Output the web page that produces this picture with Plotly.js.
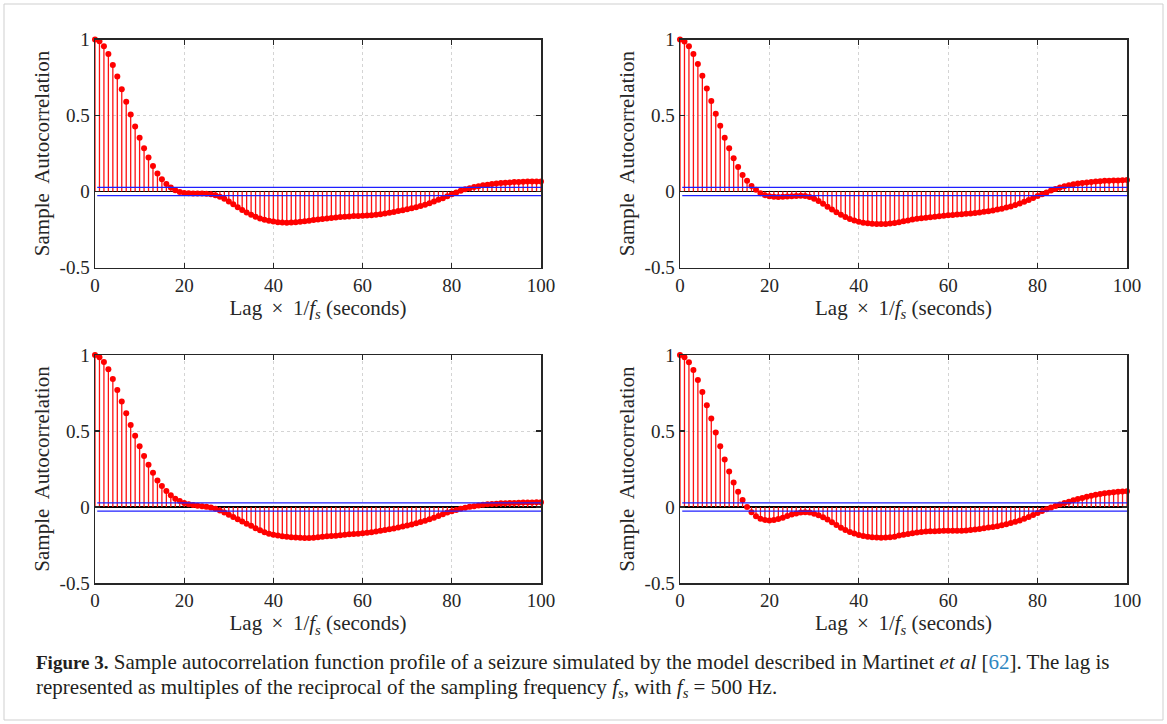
<!DOCTYPE html>
<html>
<head>
<meta charset="utf-8">
<script src="https://cdn.plot.ly/plotly-3.0.1.min.js"></script>
<style>
  html, body { margin: 0; padding: 0; background: #ffffff; }
  #chart { width: 1167px; height: 724px; }
</style>
</head>
<body>
<div id="chart"></div>
<script>
// ---------------- DATA ----------------
const lags = Array.from({length: 101}, (_, i) => i);   // lag index 0..100

const acfTopLeft = [
  1.000, 0.989, 0.956, 0.904, 0.833, 0.757, 0.673, 0.590, 0.507, 0.428,
  0.353, 0.285, 0.224, 0.167, 0.118, 0.081, 0.050, 0.026, 0.009, -0.004,
  -0.010, -0.012, -0.013, -0.013, -0.013, -0.014, -0.018, -0.024, -0.034, -0.048,
  -0.066, -0.084, -0.103, -0.121, -0.138, -0.153, -0.166, -0.177, -0.186, -0.193,
  -0.198, -0.202, -0.204, -0.205, -0.204, -0.202, -0.199, -0.196, -0.192, -0.188,
  -0.185, -0.181, -0.177, -0.174, -0.171, -0.168, -0.166, -0.164, -0.162, -0.161,
  -0.160, -0.158, -0.156, -0.153, -0.149, -0.145, -0.140, -0.135, -0.129, -0.123,
  -0.117, -0.111, -0.104, -0.096, -0.087, -0.077, -0.066, -0.055, -0.044, -0.031,
  -0.018, -0.006, 0.005, 0.014, 0.022, 0.029, 0.035, 0.041, 0.045, 0.049,
  0.053, 0.056, 0.058, 0.060, 0.062, 0.063, 0.064, 0.065, 0.065, 0.066,
  0.066
];

const acfTopRight = [
  1.000, 0.987, 0.956, 0.904, 0.838, 0.761, 0.678, 0.595, 0.512, 0.433,
  0.354, 0.284, 0.219, 0.162, 0.109, 0.070, 0.037, 0.011, -0.011, -0.024,
  -0.031, -0.035, -0.036, -0.035, -0.033, -0.031, -0.029, -0.028, -0.030, -0.037,
  -0.048, -0.063, -0.081, -0.100, -0.118, -0.136, -0.153, -0.168, -0.181, -0.191,
  -0.199, -0.205, -0.209, -0.212, -0.213, -0.214, -0.213, -0.211, -0.207, -0.202,
  -0.196, -0.190, -0.185, -0.180, -0.176, -0.172, -0.169, -0.166, -0.163, -0.160,
  -0.157, -0.155, -0.152, -0.150, -0.147, -0.144, -0.141, -0.138, -0.134, -0.130,
  -0.125, -0.119, -0.113, -0.106, -0.098, -0.089, -0.079, -0.068, -0.056, -0.043,
  -0.030, -0.018, -0.006, 0.006, 0.017, 0.026, 0.034, 0.041, 0.047, 0.052,
  0.056, 0.060, 0.063, 0.066, 0.068, 0.070, 0.071, 0.072, 0.073, 0.074,
  0.075
];

const acfBottomLeft = [
  1.000, 0.985, 0.954, 0.906, 0.842, 0.770, 0.694, 0.617, 0.540, 0.468,
  0.400, 0.335, 0.278, 0.225, 0.175, 0.138, 0.105, 0.077, 0.055, 0.039,
  0.026, 0.018, 0.013, 0.009, 0.005, 0.001, -0.004, -0.012, -0.023, -0.036,
  -0.051, -0.066, -0.081, -0.095, -0.110, -0.124, -0.139, -0.153, -0.166, -0.176,
  -0.183, -0.188, -0.192, -0.196, -0.199, -0.201, -0.203, -0.204, -0.204, -0.202,
  -0.199, -0.196, -0.193, -0.191, -0.189, -0.186, -0.183, -0.180, -0.178, -0.176,
  -0.173, -0.170, -0.166, -0.162, -0.157, -0.152, -0.147, -0.141, -0.135, -0.129,
  -0.122, -0.115, -0.107, -0.099, -0.090, -0.081, -0.070, -0.059, -0.048, -0.037,
  -0.028, -0.020, -0.012, -0.005, 0.001, 0.005, 0.010, 0.014, 0.018, 0.020,
  0.022, 0.024, 0.025, 0.026, 0.027, 0.028, 0.029, 0.030, 0.030, 0.031,
  0.031
];

const acfBottomRight = [
  1.000, 0.985, 0.952, 0.902, 0.836, 0.757, 0.670, 0.582, 0.490, 0.400,
  0.313, 0.234, 0.162, 0.101, 0.046, 0.000, -0.035, -0.061, -0.077, -0.085,
  -0.088, -0.085, -0.079, -0.070, -0.059, -0.050, -0.042, -0.037, -0.035, -0.037,
  -0.044, -0.055, -0.068, -0.083, -0.100, -0.118, -0.136, -0.151, -0.164, -0.175,
  -0.184, -0.190, -0.195, -0.199, -0.201, -0.202, -0.201, -0.199, -0.195, -0.188,
  -0.182, -0.177, -0.173, -0.168, -0.164, -0.162, -0.160, -0.159, -0.158, -0.157,
  -0.156, -0.156, -0.156, -0.156, -0.155, -0.152, -0.148, -0.144, -0.140, -0.135,
  -0.131, -0.126, -0.120, -0.113, -0.105, -0.097, -0.088, -0.077, -0.066, -0.053,
  -0.039, -0.027, -0.015, -0.004, 0.007, 0.017, 0.026, 0.035, 0.044, 0.052,
  0.059, 0.067, 0.074, 0.080, 0.085, 0.090, 0.094, 0.097, 0.100, 0.102,
  0.103
];

const confBound = 0.027;          // +/- confidence bound (blue lines)
const boundStartLag = 0.5;
const boundEndLag = 100;

const xTickVals = [0, 20, 40, 60, 80, 100];
const xTickText = ['0', '20', '40', '60', '80', '100'];
const yTickVals = [-0.5, 0, 0.5, 1];
const yTickText = ['-0.5', '0', '0.5', '1'];

const xTitle = 'Lag \u2009×\u2009 1/<i>f<sub>s</sub></i> (seconds)';
const yTitle = 'Sample  Autocorrelation';

const captionLine1 = '<span style="font-size:19px"><b>Figure 3.</b></span> Sample autocorrelation function profile of a seizure simulated by the model described in Martinet <i>et al</i> [<span style="color:#2e86c1">62</span>]. The lag is';
const captionLine2 = 'represented as multiples of the reciprocal of the sampling frequency <i>f<sub>s</sub></i>, with <i>f<sub>s</sub></i> = 500 Hz.';

// ---------------- FIGURE ----------------
const W = 1167, H = 724;
const px = v => v / W;
const py = v => 1 - v / H;

const series = [acfTopLeft, acfTopRight, acfBottomLeft, acfBottomRight];
const panels = [
  {x0: 95,  x1: 541,  y0: 39.5, y1: 267.5},
  {x0: 680, x1: 1127, y0: 39.5, y1: 267.5},
  {x0: 95,  x1: 541,  y0: 355,  y1: 583},
  {x0: 680, x1: 1127, y0: 355,  y1: 583}
];

const serif = 'Liberation Serif, Times New Roman, serif';
const axisInk = '#262626';

const traces = [];
const layout = {
  width: W, height: H,
  margin: {l: 0, r: 0, t: 0, b: 0},
  paper_bgcolor: '#ffffff',
  plot_bgcolor: '#ffffff',
  showlegend: false,
  font: {family: serif, color: axisInk},
  annotations: [],
  shapes: [{
    type: 'rect', xref: 'paper', yref: 'paper',
    x0: px(4), x1: px(1163), y0: py(720), y1: py(4),
    line: {color: '#cfcfcf', width: 1}, layer: 'below'
  }]
};

series.forEach((vals, k) => {
  const n = k + 1;
  const xa = n === 1 ? 'x' : 'x' + n;
  const ya = n === 1 ? 'y' : 'y' + n;
  const sx = [], sy = [];
  vals.forEach((v, i) => { sx.push(lags[i], lags[i], null); sy.push(0, v, null); });

  traces.push({
    type: 'scatter', mode: 'lines', x: sx, y: sy, xaxis: xa, yaxis: ya,
    line: {color: '#ff1010', width: 1.3}, hoverinfo: 'skip', cliponaxis: false
  });
  traces.push({
    type: 'scatter', mode: 'markers', x: lags, y: vals, xaxis: xa, yaxis: ya,
    marker: {color: '#ff0000', size: 6, line: {width: 0}}, cliponaxis: false
  });
  traces.push({
    type: 'scatter', mode: 'lines', x: [boundStartLag, boundEndLag], y: [confBound, confBound],
    xaxis: xa, yaxis: ya, line: {color: '#1f1fff', width: 1.3}
  });
  traces.push({
    type: 'scatter', mode: 'lines', x: [boundStartLag, boundEndLag], y: [-confBound, -confBound],
    xaxis: xa, yaxis: ya, line: {color: '#1f1fff', width: 1.3}
  });

  const p = panels[k];
  const common = {
    showline: true, mirror: 'ticks', linecolor: axisInk, linewidth: 1.5,
    ticks: 'inside', ticklen: 5, tickwidth: 1.2, tickcolor: axisInk,
    showgrid: true, gridcolor: '#d4d4d4', griddash: 'dot', gridwidth: 1,
    tickfont: {family: serif, size: 19, color: axisInk},
    fixedrange: true
  };
  layout[n === 1 ? 'xaxis' : 'xaxis' + n] = Object.assign({}, common, {
    domain: [px(p.x0), px(p.x1)], anchor: ya, range: [0, 100],
    tickvals: xTickVals, ticktext: xTickText, zeroline: false,
    title: {text: xTitle, font: {family: serif, size: 21, color: axisInk}, standoff: 3}
  });
  layout[n === 1 ? 'yaxis' : 'yaxis' + n] = Object.assign({}, common, {
    domain: [py(p.y1), py(p.y0)], anchor: xa, range: [-0.5, 1],
    tickvals: yTickVals, ticktext: yTickText,
    zeroline: true, zerolinecolor: '#000000', zerolinewidth: 1.3,
    title: {text: yTitle, font: {family: serif, size: 21, color: axisInk}, standoff: 4}
  });
});

layout.annotations.push({
  xref: 'paper', yref: 'paper', x: px(34), y: py(662), xanchor: 'left', yanchor: 'middle',
  showarrow: false, text: captionLine1, align: 'left',
  font: {family: serif, size: 21, color: '#231f20'}
});
layout.annotations.push({
  xref: 'paper', yref: 'paper', x: px(34), y: py(688), xanchor: 'left', yanchor: 'middle',
  showarrow: false, text: captionLine2, align: 'left',
  font: {family: serif, size: 21, color: '#231f20'}
});

Plotly.newPlot('chart', traces, layout, {displayModeBar: false, staticPlot: true});
</script>
</body>
</html>
